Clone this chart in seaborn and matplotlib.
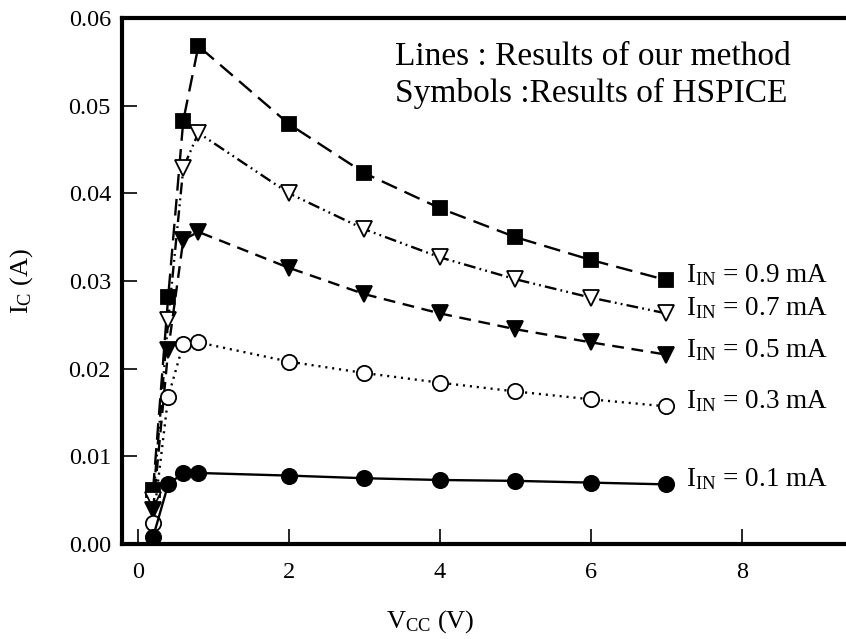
import numpy as np
import pandas as pd
import seaborn as sns
import matplotlib.pyplot as plt

# collector voltage sweep (V)
vcc = [0.2, 0.4, 0.6, 0.8, 2, 3, 4, 5, 6, 7]

# collector current (A) for each input current
ic_09 = [0.0062, 0.0282, 0.0483, 0.0568, 0.0479, 0.0423, 0.0383, 0.0350, 0.0324, 0.0301]
ic_07 = [0.0050, 0.0255, 0.0429, 0.0469, 0.0400, 0.0359, 0.0327, 0.0302, 0.0281, 0.0263]
ic_05 = [0.0039, 0.0221, 0.0347, 0.0356, 0.0315, 0.0285, 0.0263, 0.0245, 0.0230, 0.0216]
ic_03 = [0.0024, 0.0168, 0.0228, 0.0230, 0.0208, 0.0195, 0.0184, 0.0174, 0.0165, 0.0157]
ic_01 = [0.0008, 0.0068, 0.0081, 0.0081, 0.0078, 0.0075, 0.0073, 0.0072, 0.0070, 0.0068]

labels = ['0.9', '0.7', '0.5', '0.3', '0.1']

sns.set_style('ticks')
plt.rcParams['font.family'] = ['Liberation Serif', 'DejaVu Serif']
plt.rcParams['mathtext.fontset'] = 'custom'
plt.rcParams['mathtext.rm'] = 'Liberation Serif'
plt.rcParams['mathtext.it'] = 'Liberation Serif:italic'
plt.rcParams['lines.scale_dashes'] = False
for key in ['text.color', 'axes.labelcolor', 'xtick.color', 'ytick.color', 'axes.edgecolor']:
    plt.rcParams[key] = 'black'

fig = plt.figure(figsize=(8.46, 6.39), dpi=100)
ax = fig.add_axes([0.1442, 0.1487, 0.9113, 0.8231])

styles = [
    dict(marker='s', mfc='black', ms=9.5, dashes=(12, 6)),
    dict(marker='v', mfc='white', ms=11, dashes=(8.5, 3, 1.3, 3, 1.3, 3)),
    dict(marker='v', mfc='black', ms=11, dashes=(8.5, 5.5)),
    dict(marker='o', mfc='white', ms=11, dashes=(1.5, 3.5)),
    dict(marker='o', mfc='black', ms=11, dashes=None),
]

for ic, lab, st in zip([ic_09, ic_07, ic_05, ic_03, ic_01], labels, styles):
    df = pd.DataFrame({'vcc': vcc, 'ic': ic})
    sns.lineplot(data=df, x='vcc', y='ic', ax=ax, color='black', lw=1.7,
                 marker=st['marker'], markersize=st['ms'],
                 markerfacecolor=st['mfc'], markeredgecolor='black',
                 markeredgewidth=1.3, sort=False, estimator=None)
    ln = ax.lines[-1]
    if st['dashes'] is not None:
        ln.set_dashes(st['dashes'])
    ax.annotate(r'I$_{\mathrm{IN}}$ = ' + lab + ' mA', xy=(vcc[-1], ic[-1]),
                xytext=(14, -1.5), textcoords='offset points',
                ha='left', va='baseline', fontsize=19.5)

ax.text(3.40, 0.0546, 'Lines : Results of our method', fontsize=24, va='baseline')
ax.text(3.40, 0.0504, 'Symbols :Results of HSPICE', fontsize=24, va='baseline')

ax.set_xlim(-0.212, 10)
ax.set_ylim(0, 0.06)
ax.set_xticks([0, 2, 4, 6, 8])
ax.set_yticks([0, 0.01, 0.02, 0.03, 0.04, 0.05, 0.06])
ax.set_yticklabels(['0.00', '0.01', '0.02', '0.03', '0.04', '0.05', '0.06'])
ax.tick_params(direction='in', length=11, width=1.2, labelsize=17.5)
ax.tick_params(axis='x', pad=13)
ax.tick_params(axis='y', pad=8)

for side in ['left', 'bottom', 'top', 'right']:
    ax.spines[side].set_linewidth(3)
    ax.spines[side].set_visible(True)

ax.set_xlabel(r'V$_{\mathrm{CC}}$ (V)', fontsize=19)
ax.set_ylabel(r'I$_{\mathrm{C}}$ (A)', fontsize=19)
ax.xaxis.set_label_coords(0.4, -0.148)
ax.xaxis.label.set_va('center')
ax.yaxis.set_label_coords(-0.13, 0.5)
ax.yaxis.label.set_va('center')

fig.savefig('out.png', dpi=100)
